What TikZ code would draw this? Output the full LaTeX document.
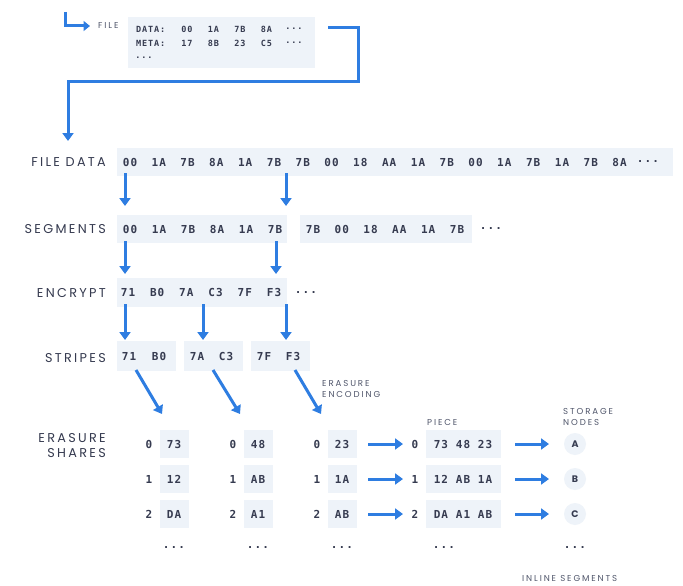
\documentclass[tikz,border=0pt]{standalone}
\usepackage{fontspec}
\usetikzlibrary{arrows.meta}
\newfontfamily\labfont{Poppins}[LetterSpace=18]
\newfontfamily\smallfont{Poppins}[LetterSpace=22]
\newfontfamily\hexfont{DejaVu Sans Mono}[LetterSpace=10]
\newfontfamily\circfont{Poppins}
\definecolor{boxbg}{HTML}{EEF3F9}
\definecolor{ink}{HTML}{363B50}
\definecolor{softink}{HTML}{50566B}
\definecolor{flowblue}{HTML}{2E7DE1}
\tikzset{
  box/.style={fill=boxbg, draw=none, inner sep=0pt},
  hx/.style={font=\fontsize{11}{12}\hexfont\bfseries, text=ink, inner sep=0pt},
  hxs/.style={font=\fontsize{8.5}{10}\hexfont\bfseries, text=ink, inner sep=0pt},
  rowlab/.style={font=\fontsize{12.8}{15}\labfont, text=ink, anchor=east, inner sep=0pt, align=right},
  smlab/.style={font=\fontsize{8.6}{11}\smallfont, text=softink, inner sep=0pt, align=left},
  flow/.style={draw=flowblue, line width=3pt, -{Triangle[length=8pt,width=11pt]}},
  storenode/.style={circle, fill=boxbg, minimum size=22pt, inner sep=0pt, font=\fontsize{9.5}{11}\circfont\bfseries, text=ink},
}
\begin{document}
\begin{tikzpicture}[x=1pt,y=-1pt]
\useasboundingbox[fill=white] (0,0) rectangle (683,586);

% ---------- top: file ----------
\coordinate (hk0) at (65,12);
\coordinate (hk1) at (90,26);
\draw[flow, -{Triangle[length=6.5pt,width=10pt]}] (hk0) |- (hk1);
\node[smlab, anchor=west] (filelab) at (98,25) {FILE};
\node[box, minimum width=187pt, minimum height=51pt, anchor=north west] (filebox) at (128,17) {};
\node[hxs, anchor=west] (datalab) at (136,29) {DATA:};
\node[hxs, anchor=west] (metalab) at (136,43) {META:};
\foreach \v [count=\i] in {00,1A,7B,8A} \node[hxs] (dv\i) at ({187+(\i-1)*26.5},29) {\v};
\foreach \v [count=\i] in {17,8B,23,C5} \node[hxs] (mv\i) at ({187+(\i-1)*26.5},43) {\v};
\node[hxs] (dvdots) at (294,29) {...};
\node[hxs] (mvdots) at (294,43) {...};
\node[hxs] (moredots) at (144,58) {...};

% long connector
\coordinate (lc0) at (328,28);
\coordinate (lcb) at (358,82);
\coordinate (lc1) at (68,141);
\draw[flow] (lc0) -| (lcb) -| (lc1);

% ---------- FILE DATA ----------
\node[rowlab] (lfd) at (106,162) {FILE DATA};
\node[box, minimum width=556pt, minimum height=28pt, anchor=west] (fdbox) at (117,162) {};
\foreach \v [count=\i] in {00,1A,7B,8A,1A,7B,7B,00,18,AA,1A,7B,00,1A,7B,1A,7B,8A}
  \node[hx] (fd\i) at ({130+(\i-1)*28.8},162) {\v};
\node[hx] (fddots) at (648,162) {...};

\coordinate (fa1) at (125,173); \coordinate (fb1) at (125,206);
\coordinate (fa2) at (286,173); \coordinate (fb2) at (286,206);
\draw[flow] (fa1) -- (fb1);
\draw[flow] (fa2) -- (fb2);

% ---------- SEGMENTS ----------
\node[rowlab] (lsg) at (106,229) {SEGMENTS};
\node[box, minimum width=170pt, minimum height=28pt, anchor=west] (sgbox1) at (117,229) {};
\node[box, minimum width=172pt, minimum height=28pt, anchor=west] (sgbox2) at (300,229) {};
\foreach \v [count=\i] in {00,1A,7B,8A,1A,7B}
  \node[hx] (sga\i) at ({130+(\i-1)*29},229) {\v};
\foreach \v [count=\i] in {7B,00,18,AA,1A,7B}
  \node[hx] (sgb\i) at ({313+(\i-1)*28.8},229) {\v};
\node[hx] (sgdots) at (491,229) {...};

\coordinate (sa1) at (125,241); \coordinate (sb1) at (125,274);
\coordinate (sa2) at (276,241); \coordinate (sb2) at (276,274);
\draw[flow] (sa1) -- (sb1);
\draw[flow] (sa2) -- (sb2);

% ---------- ENCRYPT ----------
\node[rowlab] (len) at (106,293) {ENCRYPT};
\node[box, minimum width=170pt, minimum height=29pt, anchor=west] (enbox) at (117,292) {};
\foreach \v [count=\i] in {71,B0,7A,C3,7F,F3}
  \node[hx] (en\i) at ({128+(\i-1)*29.2},292) {\v};
\node[hx] (endots) at (306,293) {...};

\coordinate (ea1) at (125,304); \coordinate (eb1) at (125,340);
\coordinate (ea2) at (203,304); \coordinate (eb2) at (203,340);
\coordinate (ea3) at (286,304); \coordinate (eb3) at (286,340);
\draw[flow] (ea1) -- (eb1);
\draw[flow] (ea2) -- (eb2);
\draw[flow] (ea3) -- (eb3);

% ---------- STRIPES ----------
\node[rowlab] (lst) at (106,358) {STRIPES};
\node[box, minimum width=59pt, minimum height=30pt, anchor=west] (stbox1) at (117,356) {};
\node[box, minimum width=59pt, minimum height=30pt, anchor=west] (stbox2) at (184,356) {};
\node[box, minimum width=59pt, minimum height=30pt, anchor=west] (stbox3) at (251,356) {};
\node[hx] (st1) at (129,356) {71};
\node[hx] (st2) at (159,356) {B0};
\node[hx] (st3) at (197,356) {7A};
\node[hx] (st4) at (226,356) {C3};
\node[hx] (st5) at (264,356) {7F};
\node[hx] (st6) at (293,356) {F3};

\coordinate (da1) at (136,370); \coordinate (db1) at (162,414);
\coordinate (da2) at (213,370); \coordinate (db2) at (240,414);
\coordinate (da3) at (295,370); \coordinate (db3) at (321,414);
\draw[flow] (da1) -- (db1);
\draw[flow] (da2) -- (db2);
\draw[flow] (da3) -- (db3);

\node[smlab, anchor=west] (enclab) at (322,388.5) {ERASURE\\ENCODING};

% ---------- ERASURE SHARES ----------
\node[rowlab] (les) at (106,445.5) {ERASURE\\SHARES};

\foreach \c/\ix/\bx/\va/\vb/\vc in {1/149/174/73/12/DA, 2/233/258/48/AB/A1, 3/317/342/23/1A/AB} {
  \node[box, minimum width=29pt, minimum height=28pt] (shb\c a) at (\bx,444) {};
  \node[box, minimum width=29pt, minimum height=28pt] (shb\c b) at (\bx,479) {};
  \node[box, minimum width=29pt, minimum height=28pt] (shb\c c) at (\bx,514) {};
  \node[hx] (shi\c a) at (\ix,444) {0};
  \node[hx] (shi\c b) at (\ix,479) {1};
  \node[hx] (shi\c c) at (\ix,514) {2};
  \node[hx] (shv\c a) at (\bx,444) {\va};
  \node[hx] (shv\c b) at (\bx,479) {\vb};
  \node[hx] (shv\c c) at (\bx,514) {\vc};
  \node[hx] (shd\c) at (\bx,548) {...};
}

% ---------- PIECES ----------
\node[smlab, anchor=west] (piecelab) at (427,422) {PIECE};
\node[smlab, anchor=west] (storelab) at (563,416.5) {STORAGE\\NODES};

\foreach \r/\y/\idx/\pv/\sn in {a/444/0/{73 48 23}/A, b/479/1/{12 AB 1A}/B, c/514/2/{DA A1 AB}/C} {
  \coordinate (pa\r) at (368,\y);
  \coordinate (pb\r) at (403,\y);
  \draw[flow] (pa\r) -- (pb\r);
  \node[hx] (pi\r) at (415,\y) {\idx};
  \node[box, minimum width=75pt, minimum height=28pt] (pbox\r) at (463,\y) {};
  \node[hx] (pv\r) at (463,\y) {\pv};
  \coordinate (qa\r) at (515,\y);
  \coordinate (qb\r) at (549,\y);
  \draw[flow] (qa\r) -- (qb\r);
  \node[storenode] (sn\r) at (575,\y) {\sn};
}
\node[hx] (pdots) at (444,548) {...};
\node[hx] (sndots) at (575,548) {...};

% label at the bottom edge
\node[smlab, anchor=south west] (inlinelab) at (522,582) {INLINE SEGMENTS};
\end{tikzpicture}
\end{document}
